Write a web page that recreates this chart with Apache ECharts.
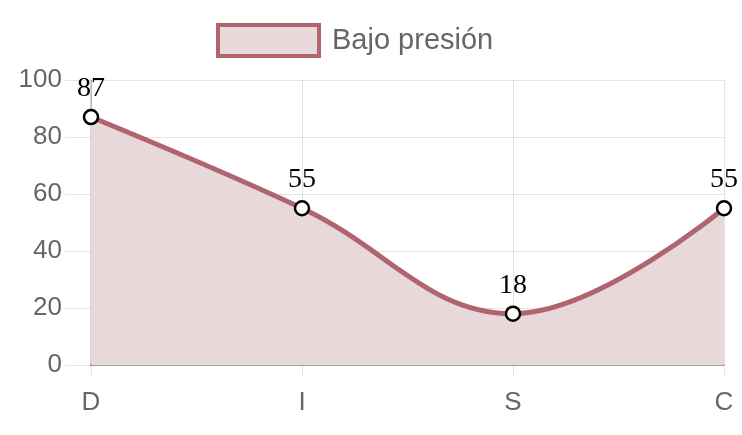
<!DOCTYPE html>
<html><head><meta charset="utf-8">
<script src="https://cdn.jsdelivr.net/npm/echarts@6/dist/echarts.min.js"></script>
<style>html,body{margin:0;padding:0;background:#fff}#c{width:742px;height:435px}</style>
</head><body><div id="c"></div>
<script>
const categories = ['D', 'I', 'S', 'C'];
const seriesName = 'Bajo presión';
const values = [87, 55, 18, 55];
const yTicks = { min: 0, max: 100, interval: 20 };

const lineColor = '#b0646e';
const fillColor = '#e8d8da';
const chart = echarts.init(document.getElementById('c'));
chart.setOption({
  animation: false,
  textStyle: { fontFamily: 'Liberation Sans, Arial, sans-serif' },
  legend: {
    top: 23, left: 216, padding: 0,
    data: [{ name: seriesName, icon: 'rect' }],
    itemWidth: 101, itemHeight: 31, itemGap: 10,
    itemStyle: { color: fillColor, borderColor: lineColor, borderWidth: 4 },
    lineStyle: { width: 0 },
    textStyle: { fontSize: 29, color: '#666', padding: [0, 0, 0, 8], fontFamily: 'Liberation Sans, Arial, sans-serif' }
  },
  grid: { left: 91, right: 18, top: 80, bottom: 70, containLabel: false },
  xAxis: {
    type: 'category', data: categories, boundaryGap: false,
    axisLine: { lineStyle: { color: 'rgba(0,0,0,0.3)', width: 2 } },
    axisTick: { show: true, length: 11, alignWithLabel: true, lineStyle: { color: 'rgba(0,0,0,0.1)' } },
    axisLabel: { fontSize: 26, color: '#666', margin: 25 },
    splitLine: { show: true, lineStyle: { color: 'rgba(0,0,0,0.1)' } }
  },
  yAxis: {
    type: 'value', min: yTicks.min, max: yTicks.max, interval: yTicks.interval,
    axisLine: { show: true, lineStyle: { color: 'rgba(0,0,0,0.18)', width: 2 } },
    axisTick: { show: true, length: 26, lineStyle: { color: 'rgba(0,0,0,0.1)' } },
    axisLabel: { fontSize: 26, color: '#666', margin: 29 },
    splitLine: { show: true, lineStyle: { color: 'rgba(0,0,0,0.1)' } }
  },
  series: [{
    name: seriesName, type: 'line', data: values, smooth: 0.4,
    symbol: 'circle', symbolSize: 14,
    itemStyle: { color: '#fff', borderColor: '#000', borderWidth: 2.5 },
    lineStyle: { color: lineColor, width: 5 },
    areaStyle: { color: fillColor, opacity: 1, origin: 'start' },
    label: { show: true, position: 'top', distance: 6, fontSize: 28, color: '#000', fontFamily: 'Liberation Serif, Times New Roman, serif' },
    z: 3
  }]
});
</script></body></html>
